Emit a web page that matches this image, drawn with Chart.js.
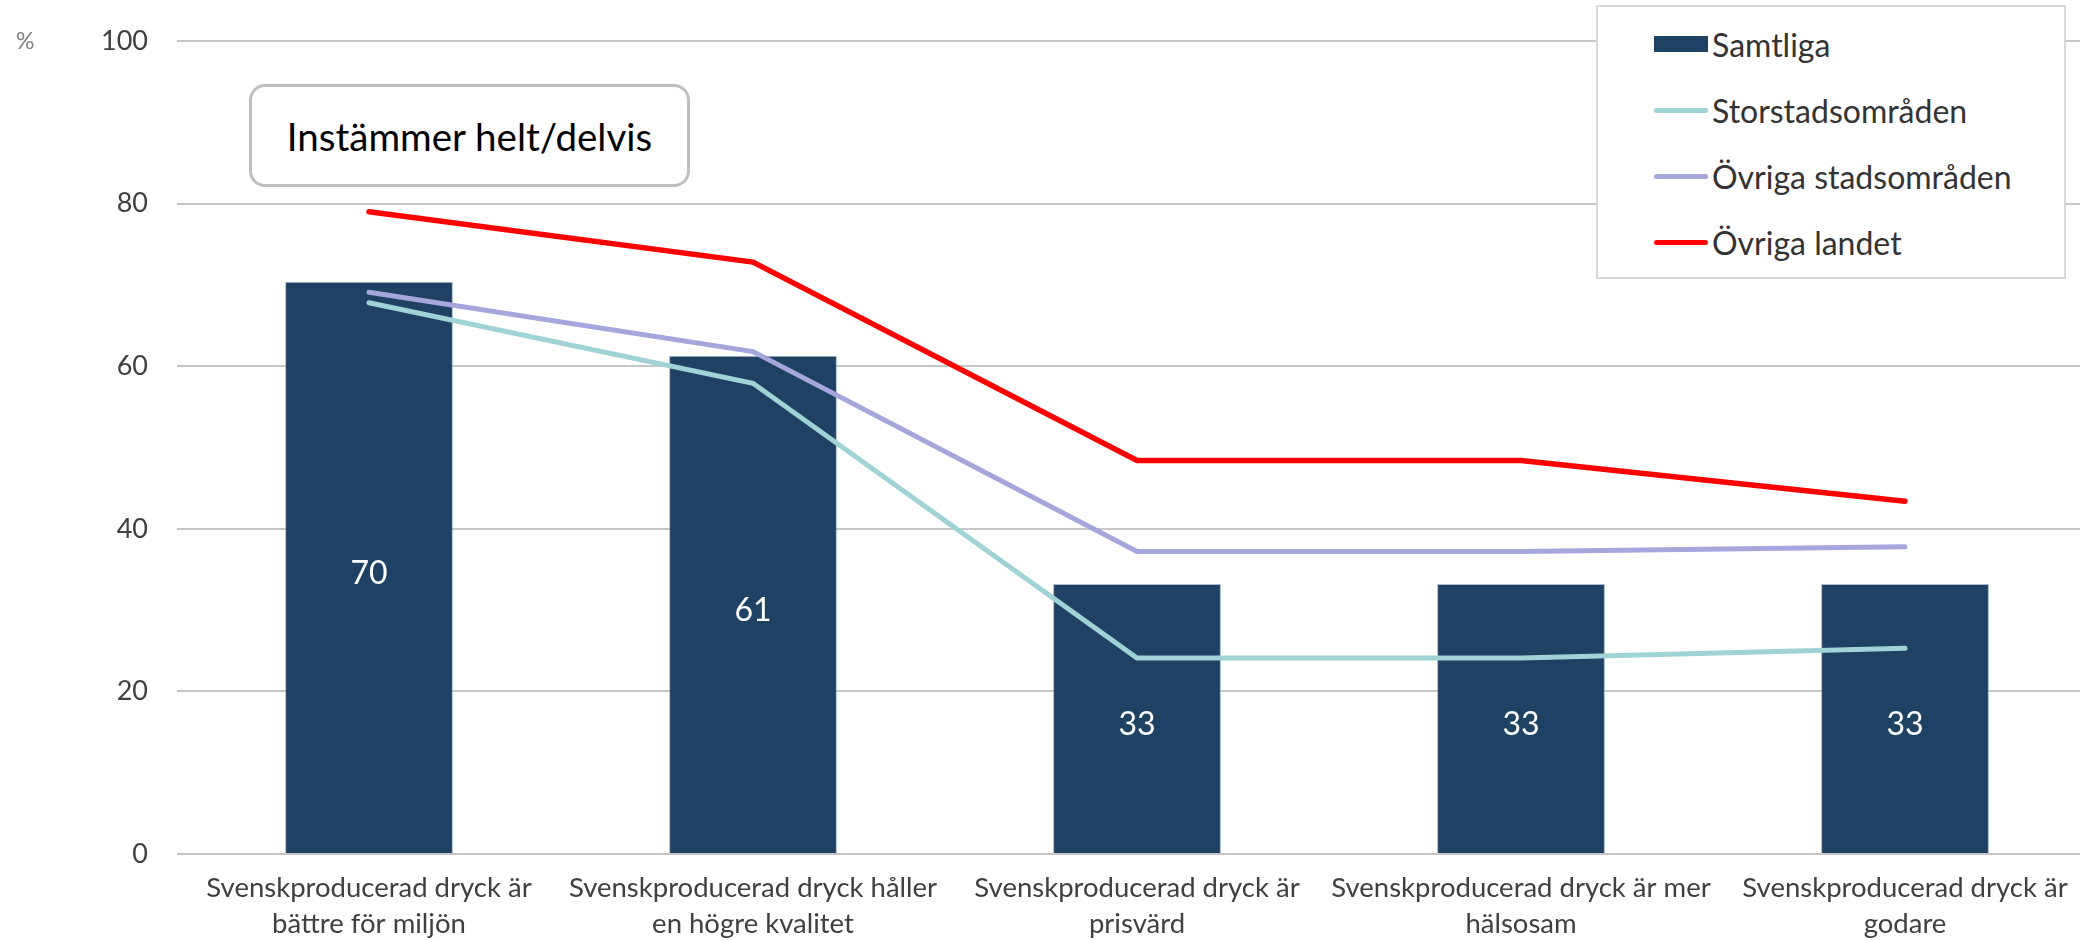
<!DOCTYPE html>
<html lang="sv">
<head>
  <meta charset="UTF-8" />
  <title>Svenskproducerad dryck</title>
  <script src="https://cdn.jsdelivr.net/npm/chart.js"></script>
  <style>
    body { margin: 0; overflow: hidden; background: #fff; font-family: Lato, sans-serif; }
    #wrap { position: relative; width: 2100px; height: 940px; }
    #procent { position: absolute; left: 16px; top: 26px; font-size: 23px; color: #808080; }
    #rubrik {
      position: absolute; left: 249px; top: 84px; width: 435px; height: 97px;
      border: 3px solid #bfbfbf; border-radius: 16px; background: #fff;
      display: flex; align-items: center; justify-content: center;
      font-size: 38.5px; color: #000;
    }
    #legend {
      position: absolute; left: 1596px; top: 5px; width: 470px; height: 274px;
      border: 2px solid #d9d9d9; background: #fff; box-sizing: border-box;
      padding-top: 4px;
    }
    .rad { height: 66px; display: flex; align-items: center; padding-left: 56px; font-size: 32px; color: #333; }
    .sym { width: 54px; margin-right: 4px; }
  </style>
</head>
<body>
<div id="wrap">
  <canvas id="diagram"></canvas>
  <div id="procent">%</div>
  <div id="rubrik">Instämmer helt/delvis</div>
  <div id="legend"></div>
</div>
<script>
  // Kategorier och värden
  const kategorier = [
    ['Svenskproducerad dryck är', 'bättre för miljön'],
    ['Svenskproducerad dryck håller', 'en högre kvalitet'],
    ['Svenskproducerad dryck är', 'prisvärd'],
    ['Svenskproducerad dryck är mer', 'hälsosam'],
    ['Svenskproducerad dryck är', 'godare']
  ];
  const samtliga = [70.4, 61.3, 33.2, 33.2, 33.2];
  const storstad = [67.8, 57.9, 24.1, 24.1, 25.3];
  const ovrigaStad = [69.1, 61.8, 37.2, 37.2, 37.8];
  const ovrigaLandet = [79.0, 72.8, 48.4, 48.4, 43.4];
  const yTicks = [0, 20, 40, 60, 80, 100];

  const serier = [
    { namn: 'Samtliga', farg: '#1f4164', typ: 'bar' },
    { namn: 'Storstadsområden', farg: '#9fd3d6', typ: 'line' },
    { namn: 'Övriga stadsområden', farg: '#a6a6dd', typ: 'line' },
    { namn: 'Övriga landet', farg: '#ff0000', typ: 'line' }
  ];

  // Värdeetiketter mitt i staplarna
  const stapelEtiketter = {
    id: 'stapelEtiketter',
    afterDatasetsDraw(chart) {
      const ctx = chart.ctx;
      const meta = chart.getDatasetMeta(0);
      ctx.save();
      ctx.font = '32px Lato, sans-serif';
      ctx.fillStyle = '#ffffff';
      ctx.textAlign = 'center';
      ctx.textBaseline = 'middle';
      meta.data.forEach((bar, i) => {
        ctx.fillText(String(Math.round(samtliga[i])), bar.x, (bar.y + bar.base) / 2 + 6);
      });
      ctx.restore();
    }
  };

  const ctx = document.getElementById('diagram').getContext('2d');
  const diagram = new Chart(ctx, {
    data: {
      labels: kategorier,
      datasets: [
        {
          type: 'bar', label: serier[0].namn, data: samtliga,
          backgroundColor: serier[0].farg, borderColor: 'rgba(110,140,170,0.6)', borderWidth: 1,
          categoryPercentage: 1, barPercentage: 0.437, order: 10
        },
        {
          type: 'line', label: serier[1].namn, data: storstad,
          borderColor: serier[1].farg, borderWidth: 5, pointRadius: 0, tension: 0,
          borderCapStyle: 'round', order: 3
        },
        {
          type: 'line', label: serier[2].namn, data: ovrigaStad,
          borderColor: serier[2].farg, borderWidth: 5, pointRadius: 0, tension: 0,
          borderCapStyle: 'round', order: 2
        },
        {
          type: 'line', label: serier[3].namn, data: ovrigaLandet,
          borderColor: serier[3].farg, borderWidth: 5.5, pointRadius: 0, tension: 0,
          borderCapStyle: 'round', order: 1
        }
      ]
    },
    options: {
      responsive: true,
      maintainAspectRatio: false,
      animation: false,
      layout: { padding: { top: 41, right: 3, left: 0, bottom: 0 } },
      plugins: { legend: { display: false }, tooltip: { enabled: false } },
      scales: {
        x: {
          offset: true,
          grid: { display: false },
          border: { display: false },
          ticks: {
            color: '#404040', padding: 8, maxRotation: 0, autoSkip: false,
            font: { family: 'Lato', size: 27.5, lineHeight: 1.32 }
          },
          afterFit(scale) { scale.height = 86; scale.paddingLeft = 0; scale.paddingRight = 0; }
        },
        y: {
          min: 0, max: 100,
          afterBuildTicks(scale) { scale.ticks = yTicks.map(v => ({ value: v })); },
          grid: { color: '#c6c6c6', lineWidth: 2, drawTicks: false },
          border: { display: false },
          ticks: { color: '#404040', padding: 29, font: { family: 'Lato', size: 27 } },
          afterFit(scale) { scale.width = 177; scale.paddingTop = 0; scale.paddingBottom = 0; }
        }
      }
    },
    plugins: [stapelEtiketter]
  });

  // Legend byggd från serierna
  const legend = document.getElementById('legend');
  serier.forEach(s => {
    const rad = document.createElement('div');
    rad.className = 'rad';
    const sym = document.createElement('span');
    sym.className = 'sym';
    sym.style.background = s.farg;
    sym.style.height = s.typ === 'bar' ? '16px' : '5px';
    sym.style.borderRadius = s.typ === 'bar' ? '0' : '3px';
    rad.appendChild(sym);
    rad.appendChild(document.createTextNode(s.namn));
    legend.appendChild(rad);
  });
</script>
</body>
</html>
